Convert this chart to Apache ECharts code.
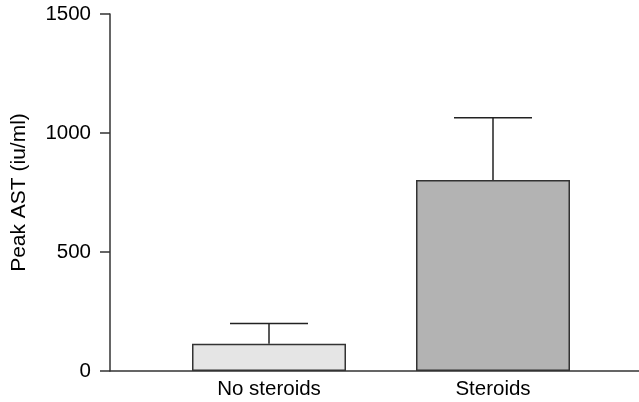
<!DOCTYPE html>
<html>
<head>
<meta charset="utf-8">
<script src="https://cdn.jsdelivr.net/npm/echarts@6/dist/echarts.min.js"></script>
<style>html,body{margin:0;padding:0;background:#fff}#c{width:639px;height:402px}</style>
</head>
<body>
<div id="c"></div>
<script>
const categories = ['No steroids', 'Steroids'];
const meanValues = [115, 802];
const upperValues = [200, 1064];
const yTicks = [0, 500, 1000, 1500];
const barColors = ['#e5e5e5', '#b3b3b3'];

const chart = echarts.init(document.getElementById('c'));
const font = 'Liberation Sans, Arial, Helvetica, sans-serif';
const axisColor = '#333';

chart.setOption({
  animation: false,
  grid: [
    { left: 110, right: 0, top: 14, bottom: 31 },
    { left: 157, right: 34, top: 14, bottom: 31 }
  ],
  xAxis: [
    { gridIndex: 0, type: 'value', min: 0, max: 1, axisLine: { show: true, lineStyle: { color: axisColor, width: 1.5 } },
      axisTick: { show: false }, axisLabel: { show: false }, splitLine: { show: false } },
    { gridIndex: 1, type: 'category', data: categories, axisLine: { show: false }, axisTick: { show: false },
      axisLabel: { color: '#000', fontSize: 20.5, fontFamily: font, margin: 8 } }
  ],
  yAxis: [
    { gridIndex: 0, type: 'value', min: yTicks[0], max: yTicks[yTicks.length - 1], interval: 500,
      name: 'Peak AST (iu/ml)', nameLocation: 'middle', nameGap: 80,
      nameTextStyle: { color: '#000', fontSize: 21, fontFamily: font },
      axisLine: { show: true, lineStyle: { color: axisColor, width: 1.5 } },
      axisTick: { show: true, length: 10, lineStyle: { color: axisColor, width: 1.5 } },
      axisLabel: { color: '#000', fontSize: 20.5, fontFamily: font, margin: 19, formatter: v => String(v) },
      splitLine: { show: false } },
    { gridIndex: 1, type: 'value', min: 0, max: 1500, show: false }
  ],
  series: [
    {
      type: 'custom', xAxisIndex: 1, yAxisIndex: 1, z: 1,
      data: categories.map((c, i) => [i, meanValues[i], upperValues[i]]),
      renderItem: function (params, api) {
        const base = api.coord([api.value(0), api.value(1)]);
        const top = api.coord([api.value(0), api.value(2)]);
        const half = 39;
        const style = { stroke: '#222', lineWidth: 1.5 };
        return { type: 'group', children: [
          { type: 'line', shape: { x1: base[0], y1: base[1], x2: top[0], y2: top[1] }, style: style },
          { type: 'line', shape: { x1: top[0] - half, y1: top[1], x2: top[0] + half, y2: top[1] }, style: style }
        ] };
      }
    },
    {
      type: 'bar', xAxisIndex: 1, yAxisIndex: 1, z: 2, barWidth: 154,
      data: meanValues.map((v, i) => ({ value: v, itemStyle: { color: barColors[i] } })),
      itemStyle: { borderColor: '#333', borderWidth: 1.5 }
    }
  ]
});
</script>
</body>
</html>
